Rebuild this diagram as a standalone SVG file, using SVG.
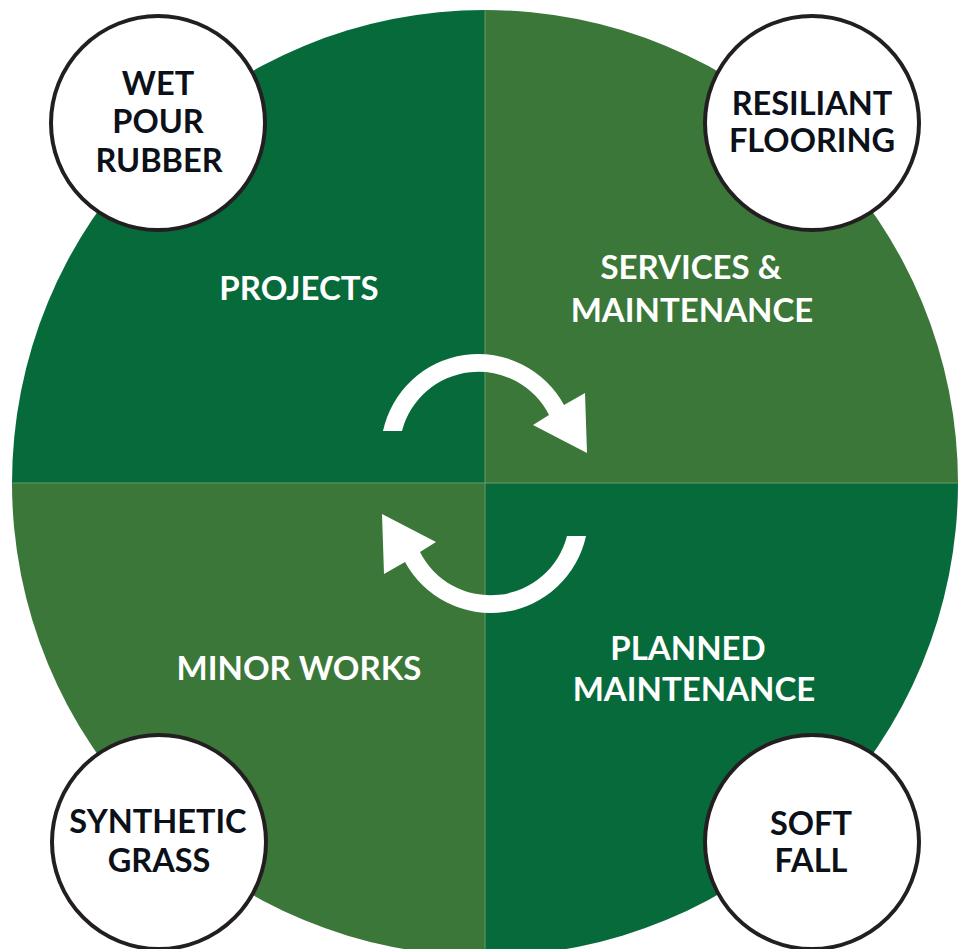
<svg xmlns="http://www.w3.org/2000/svg" width="968" height="949" viewBox="0 0 968 949">
<style>
.dark{fill:#076a3b}
.light{fill:#3b7739}
.sep{stroke:#6a9a66;stroke-width:1;fill:none}
.arrow{fill:#ffffff}
.wt{font-family:Lato,"Open Sans","Liberation Sans",sans-serif;font-weight:700;font-size:33px;fill:#ffffff;text-anchor:middle}
.bt{font-family:Lato,"Open Sans","Liberation Sans",sans-serif;font-weight:700;font-size:32.5px;fill:#0b1019;text-anchor:middle}
.badge{fill:#ffffff;stroke:#231f20;stroke-width:4}
</style>
<rect width="968" height="949" fill="#ffffff"/>
<g id="wheel">
<path class="dark" d="M485,483 L12,483 A473,473 0 0 1 485,10 Z"/>
<path class="light" d="M485,483 L485,10 A473,473 0 0 1 958,483 Z"/>
<path class="dark" d="M485,483 L958,483 A473,473 0 0 1 485,956 Z"/>
<path class="light" d="M485,483 L485,956 A473,473 0 0 1 12,483 Z"/>
<path class="sep" d="M485,10 V956 M12,483 H958"/>
</g>
<g id="connectors">
<path class="arrow" d="M383,431 A97.5,97.5 0 0 1 564,405 L585,393 L587,453 L533,425 L549,415 A79,79 0 0 0 402,431 Z"/>
<path class="arrow" transform="rotate(180 484.5 483.5)" d="M383,431 A97.5,97.5 0 0 1 564,405 L585,393 L587,453 L533,425 L549,415 A79,79 0 0 0 402,431 Z"/>
</g>
<g id="projects"><text class="wt" x="299" y="300">PROJECTS</text></g>
<g id="services"><text class="wt" x="691" y="279">SERVICES &amp;</text><text class="wt" x="692" y="322">MAINTENANCE</text></g>
<g id="minor"><text class="wt" x="299" y="680">MINOR WORKS</text></g>
<g id="planned"><text class="wt" x="688" y="660">PLANNED</text><text class="wt" x="694" y="701">MAINTENANCE</text></g>
<g id="wetpour">
<circle class="badge" cx="158" cy="123" r="107"/>
<text class="bt" x="158" y="95">WET</text>
<text class="bt" x="158" y="133">POUR</text>
<text class="bt" x="159" y="171.5">RUBBER</text>
</g>
<g id="resilient">
<circle class="badge" cx="812" cy="123" r="107"/>
<text class="bt" x="812" y="115">RESILIANT</text>
<text class="bt" x="812" y="151.5">FLOORING</text>
</g>
<g id="synthetic">
<circle class="badge" cx="159" cy="842" r="107"/>
<text class="bt" x="158" y="833">SYNTHETIC</text>
<text class="bt" x="159" y="871.5">GRASS</text>
</g>
<g id="softfall">
<circle class="badge" cx="812" cy="842" r="107"/>
<text class="bt" x="811" y="835">SOFT</text>
<text class="bt" x="811" y="871.5">FALL</text>
</g>
</svg>
